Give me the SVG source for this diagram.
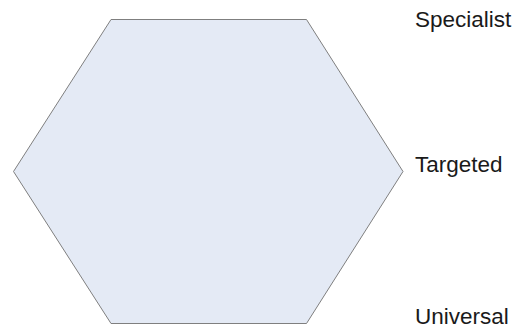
<svg xmlns="http://www.w3.org/2000/svg" width="518" height="329" viewBox="0 0 518 329">
<style>
.lbl{font-family:"Liberation Sans",Arial,sans-serif;font-size:22.5px;fill:#1a1a1a}
.hex{fill:#E4EAF5;stroke:#7f7f7f;stroke-width:1}
</style>
<rect width="518" height="329" fill="#ffffff"/>
<g id="hexagon">
<polygon class="hex" points="111,19.5 306.5,19.5 403,171.5 306.5,323.5 111,323.5 13.5,171.5"/>
</g>
<g id="labels">
<text class="lbl" x="415" y="27">Specialist</text>
<text class="lbl" x="415" y="172">Targeted</text>
<text class="lbl" x="415" y="324">Universal</text>
</g>
</svg>
